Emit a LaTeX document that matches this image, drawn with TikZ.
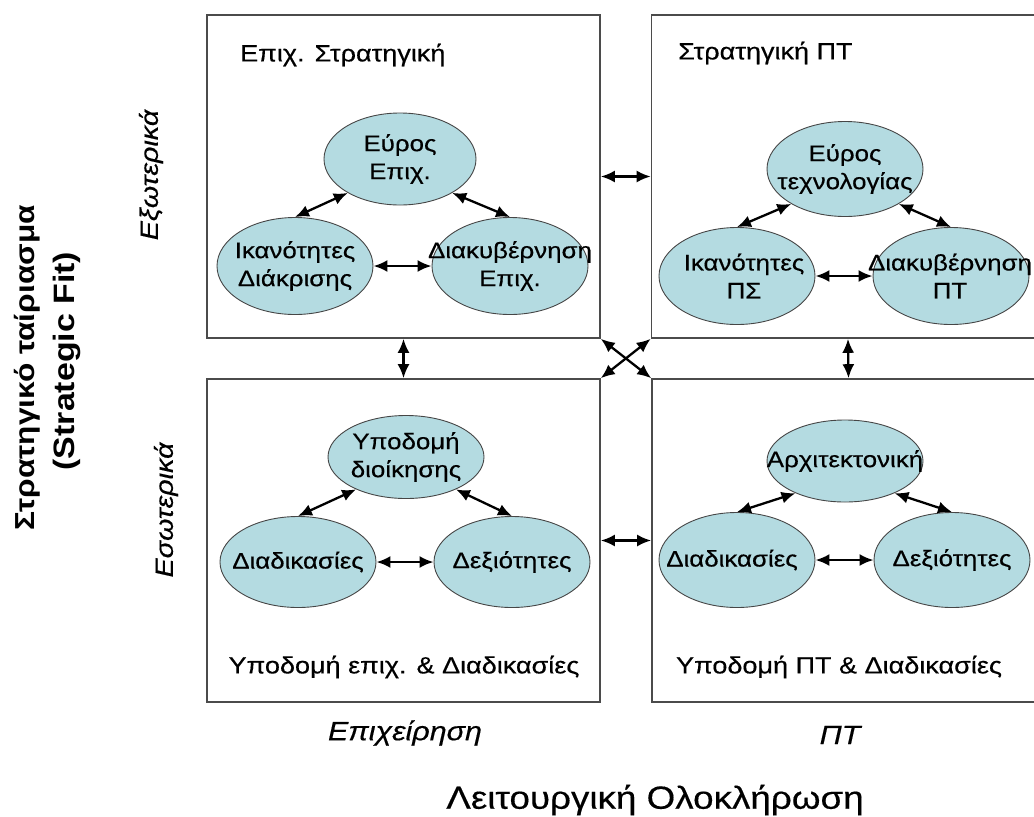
\documentclass[tikz,border=0pt]{standalone}
\usepackage{fontspec}
\setmainfont[FakeStretch=1.15, UprightFeatures={FakeBold=0.4}, ItalicFeatures={FakeBold=0.4}]{Liberation Sans}
\usetikzlibrary{shapes.geometric,arrows.meta}
\definecolor{ellfill}{RGB}{180,219,225}
\definecolor{ellline}{RGB}{70,70,70}
\definecolor{boxline}{RGB}{75,75,75}
\begin{document}
\begin{tikzpicture}[x=1pt,y=-1pt,
  ell/.style={ellipse, draw=ellline, line width=0.9pt, fill=ellfill, minimum width=156pt, minimum height=94pt, inner sep=0pt},
  etext/.style={align=center, inner sep=0pt, font=\fontsize{22.5}{28}\selectfont},
  quad/.style={draw=boxline, line width=1.6pt, minimum width=393pt, minimum height=323pt, inner sep=0pt},
  link/.style={{Latex[length=14pt,width=12pt]}-{Latex[length=14pt,width=12pt]}, line width=2.3pt},
  lbl/.style={inner sep=0pt, font=\fontsize{23.5}{26}\selectfont},
  ilbl/.style={inner sep=0pt, font=\fontsize{25}{28}\selectfont\itshape},
]
\useasboundingbox (0,0) rectangle (1034,817);
\begin{scope}
\clip (0,0) rectangle (1034,817);
% quadrants
\node[quad] (TL) at (403.5,176.5) {};
\node[quad] (TR) at (848,176.5) {};
\node[quad] (BL) at (403.5,540.5) {};
\node[quad] (BR) at (848.5,540.5) {};

% titles
\node[lbl, anchor=west] (tl-title) at (240,55) {Επιχ. Στρατηγική};
\node[lbl, anchor=west] (tr-title) at (678,53) {Στρατηγική ΠΤ};
\node[lbl] (bl-title) at (404,667) {Υποδομή επιχ. \& Διαδικασίες};
\node[lbl] (br-title) at (839,667) {Υποδομή ΠΤ \& Διαδικασίες};

% top-left group
\node[ell, minimum width=152pt, minimum height=92pt] (T1) at (400,159) {};
\node[ell, minimum height=97pt] (L1) at (295,266) {};
\node[ell, minimum height=97pt] (R1) at (510,266) {};
\node[etext] (T1t) at (T1) {Εύρος\\Επιχ.};
\node[etext] (L1t) at (L1) {Ικανότητες\\Διάκρισης};
\node[etext] (R1t) at (R1) {Διακυβέρνηση\\Επιχ.};

% top-right group
\node[ell, minimum height=95pt] (T2) at (845,169) {};
\node[ell, minimum height=97pt] (L2) at (737,276) {};
\node[ell, minimum height=97pt] (R2) at (951,276) {};
\node[etext] (T2t) at (T2) {Εύρος\\τεχνολογίας};
\node[etext] (L2t) at (744,276) {Ικανότητες\\ΠΣ};
\node[etext] (R2t) at (950,276) {Διακυβέρνηση\\ΠΤ};

% bottom-left group
\node[ell, minimum height=83pt] (T3) at (406,457) {};
\node[ell, minimum height=91pt] (L3) at (298,562) {};
\node[ell, minimum height=91pt] (R3) at (512,562) {};
\node[etext] (T3t) at (T3) {Υποδομή\\διοίκησης};
\node[etext] (L3t) at (L3) {Διαδικασίες};
\node[etext] (R3t) at (R3) {Δεξιότητες};

% bottom-right group
\node[ell, minimum height=82pt] (T4) at (845,461) {};
\node[ell, minimum height=95pt] (L4) at (737,560) {};
\node[ell, minimum height=95pt] (R4) at (952,560) {};
\node[etext] (T4t) at (T4) {Αρχιτεκτονική};
\node[etext] (L4t) at (732,560) {Διαδικασίες};
\node[etext] (R4t) at (R4) {Δεξιότητες};

% links inside groups
\foreach \t/\l/\r in {T1/L1/R1, T2/L2/R2, T3/L3/R3, T4/L4/R4}{
  \draw[link] (\l.north) -- (\t.213);
  \draw[link] (\t.327) -- (\r.north);
  \draw[link] (\l.east) -- (\r.west);
}

% links between quadrants
\draw[link] (TL.east) -- (TR.west);
\draw[link] (BL.east) -- (BR.west);
\draw[link] (TL.south) -- (BL.north);
\draw[link] (TR.south) -- (BR.north);
\draw[link] (TL.south east) -- (BR.north west);
\draw[link] (TR.south west) -- (BL.north east);
\end{scope}

% side labels
\node[ilbl, rotate=90] (ext) at (151,175) {Εξωτερικά};
\node[ilbl, rotate=90] (int) at (166,510) {Εσωτερικά};
\node[inner sep=0pt, rotate=90, font=\fontsize{27.5}{32}\selectfont\bfseries] (sf1) at (27,368) {Στρατηγικό ταίριασμα};
\node[inner sep=0pt, rotate=90, font=\fontsize{29.5}{32}\selectfont\bfseries] (sf2) at (67,361) {(Strategic Fit)};

% bottom labels
\node[inner sep=0pt, font=\fontsize{26.5}{28}\selectfont\itshape] (biz) at (405,733) {Επιχείρηση};
\node[inner sep=0pt, font=\fontsize{26.5}{28}\selectfont\itshape] (it) at (840,735) {ΠΤ};
\node[inner sep=0pt, font=\fontsize{32}{36}\selectfont] (fi) at (655,800) {Λειτουργική Ολοκλήρωση};
\end{tikzpicture}
\end{document}
